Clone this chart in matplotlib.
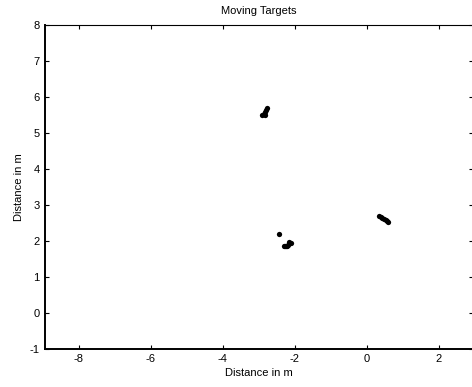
"""Moving targets scatter."""

import matplotlib
matplotlib.use('Agg')
import matplotlib.pyplot as plt

# Target positions (metres).
Target_X = [-2.78, -2.80, -2.83, -2.86, -2.90, -2.83,
            -2.44,
            -2.15, -2.12, -2.18, -2.22, -2.28, -2.30, -2.25,
            0.35, 0.38, 0.42, 0.47, 0.52, 0.56, 0.58]
Target_Y = [5.70, 5.64, 5.58, 5.54, 5.51, 5.51,
            2.20,
            1.97, 1.93, 1.88, 1.86, 1.85, 1.86, 1.85,
            2.70, 2.66, 2.63, 2.60, 2.57, 2.54, 2.52]

X_ticks = [-8, -6, -4, -2, 0, 2]
Y_ticks = [-1, 0, 1, 2, 3, 4, 5, 6, 7, 8]

plt.rcParams['font.family'] = ['Liberation Sans', 'DejaVu Sans']
plt.rcParams['font.size'] = 8
plt.rcParams['axes.unicode_minus'] = False

fig = plt.figure(figsize=(4.72, 3.87), dpi=100)
ax = fig.add_axes([0.0953, 0.099, 0.907, 0.836])

ax.plot(Target_X, Target_Y,
        linestyle='none',
        marker='o',
        markersize=3.8,
        markeredgewidth=0,
        color='black')

ax.set_xlim(-8.94, 2.95)
ax.set_ylim(-1, 8)
ax.set_xticks(X_ticks)
ax.set_yticks(Y_ticks)

# Matlab style: inward ticks on every side.
ax.tick_params(direction='in', length=3, width=0.8,
               top=True, right=True, labelsize=8, pad=4)
for side in ax.spines:
    ax.spines[side].set_linewidth(0.8)
ax.spines['left'].set_linewidth(1.4)
ax.spines['bottom'].set_linewidth(1.4)

ax.set_xlabel('Distance in m', fontsize=8, labelpad=3)
ax.set_ylabel('Distance in m', fontsize=8, labelpad=4)
ax.set_title('Moving Targets', fontsize=8, pad=8)

plt.savefig('out.png', dpi=100)
